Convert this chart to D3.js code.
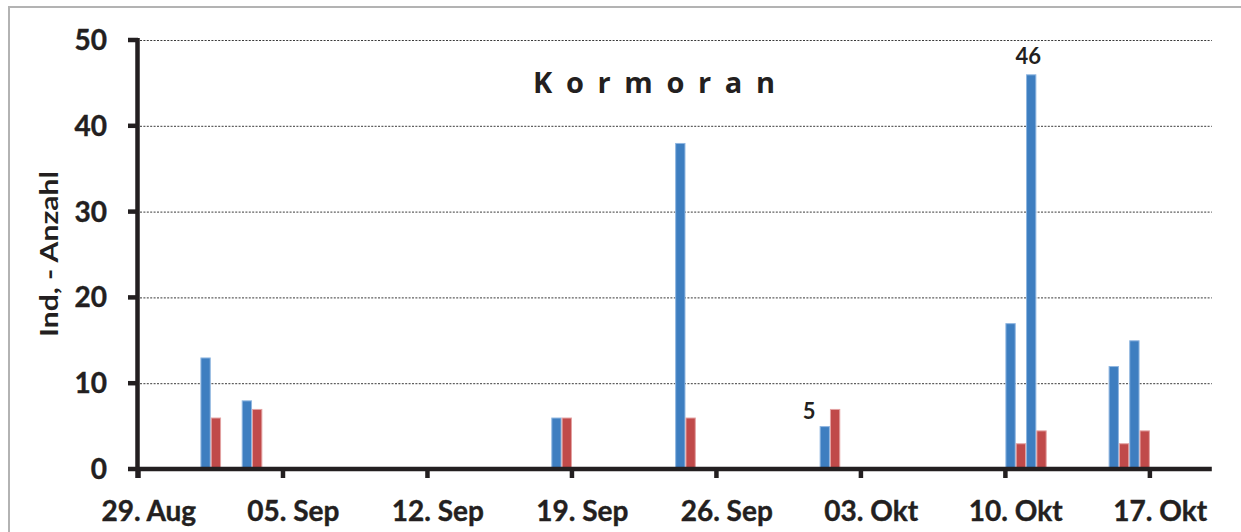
<!DOCTYPE html>
<html>
<head>
<meta charset="utf-8">
<script src="https://cdn.jsdelivr.net/npm/d3@7"></script>
<style>
  html, body { margin: 0; padding: 0; background: #fff; }
  svg { display: block; }
</style>
</head>
<body>
<svg id="chart" width="1241" height="532"></svg>
<script>
// ---- data ----
const obsDates = ["2021-09-01","2021-09-03","2021-09-18","2021-09-24","2021-10-01","2021-10-10","2021-10-11","2021-10-15","2021-10-16"];
const seriesBlue = [13, 8, 6, 38, 5, 17, 46, 12, 15];
const seriesRed  = [6, 7, 6, 6, 7, 3, 4.5, 3, 4.5];
const xTickDates = ["2021-08-29","2021-09-05","2021-09-12","2021-09-19","2021-09-26","2021-10-03","2021-10-10","2021-10-17"];
const xTickLabels = ["29. Aug","05. Sep","12. Sep","19. Sep","26. Sep","03. Okt","10. Okt","17. Okt"];
const yTickValues = [0, 10, 20, 30, 40, 50];
const xDomain = ["2021-08-29","2021-10-20"];
const labelBlueIdx = [4, 6]; // value labels shown on blue bars
const titleText = "K o r m o r a n";
const yAxisTitle = "Ind, - Anzahl";

// ---- setup ----
const parse = d3.utcParse("%Y-%m-%d");
const svg = d3.select("#chart");
const ink = "#231f20";
const fontTick = "Lato, 'Open Sans', sans-serif";

const x = d3.scaleUtc().domain(xDomain.map(parse)).range([138.5, 1211.8]);
const y = d3.scaleLinear().domain([0, 50]).range([469, 40]);

// outer border
svg.append("rect").attr("x", 9).attr("y", 7).attr("width", 1300).attr("height", 600)
  .attr("fill", "none").attr("stroke", "#b3b3b3").attr("stroke-width", 2);

// gridlines
svg.append("g").selectAll("line").data(yTickValues.filter(v => v > 0)).join("line")
  .attr("x1", 140).attr("x2", x.range()[1])
  .attr("y1", d => y(d) + 0.5).attr("y2", d => y(d) + 0.5)
  .attr("stroke", "#3a3a3a").attr("stroke-width", 1).attr("stroke-dasharray", "2,1.4");

// bars
const data = obsDates.map((d, i) => ({ date: parse(d), blue: seriesBlue[i], red: seriesRed[i] }));
const half = d => d3.utcHour.offset(d, 12);
const next = d => d3.utcDay.offset(d, 1);

svg.append("g").selectAll("rect").data(data).join("rect")
  .attr("x", d => x(d.date) + 0.5)
  .attr("width", d => x(half(d.date)) - x(d.date) - 1)
  .attr("y", d => y(d.blue) + 0.5)
  .attr("height", d => y(0) - y(d.blue) - 0.5)
  .attr("fill", "#3e7ec0").attr("stroke", "#8fb6e0").attr("stroke-width", 1);

svg.append("g").selectAll("rect").data(data).join("rect")
  .attr("x", d => x(half(d.date)) + 0.5)
  .attr("width", d => x(next(d.date)) - x(half(d.date)) - 1)
  .attr("y", d => y(d.red) + 0.5)
  .attr("height", d => y(0) - y(d.red) - 0.5)
  .attr("fill", "#c04a4a").attr("stroke", "#e3a2a2").attr("stroke-width", 1);

// x axis line + ticks
svg.append("line").attr("x1", 136).attr("x2", x.range()[1]).attr("y1", y(0)).attr("y2", y(0))
  .attr("stroke", ink).attr("stroke-width", 4.5);
const xt = xTickDates.map(parse);
svg.append("g").selectAll("line").data(xt).join("line")
  .attr("x1", d => x(d)).attr("x2", d => x(d)).attr("y1", y(0)).attr("y2", y(0) + 9)
  .attr("stroke", ink).attr("stroke-width", 4.5);
svg.append("g").selectAll("text").data(xt).join("text")
  .attr("x", d => x(half(d)))
  .attr("y", 521)
  .attr("text-anchor", "middle")
  .attr("font-family", fontTick).attr("font-weight", 700).attr("font-size", 28)
  .attr("stroke", ink).attr("stroke-width", 0.4)
  .attr("fill", ink)
  .text((d, i) => xTickLabels[i]);

// y axis line + ticks
svg.append("line").attr("x1", 137.5).attr("x2", 137.5).attr("y1", y(50) - 2).attr("y2", y(0) + 9)
  .attr("stroke", ink).attr("stroke-width", 4.5);
svg.append("g").selectAll("line").data(yTickValues).join("line")
  .attr("x1", 128).attr("x2", 138).attr("y1", d => y(d)).attr("y2", d => y(d))
  .attr("stroke", ink).attr("stroke-width", 4.5);
svg.append("g").selectAll("text").data(yTickValues).join("text")
  .attr("x", 107).attr("y", d => y(d))
  .attr("dy", "0.36em")
  .attr("text-anchor", "end")
  .attr("font-family", fontTick).attr("font-weight", 700).attr("font-size", 28)
  .attr("stroke", ink).attr("stroke-width", 0.4)
  .attr("fill", ink)
  .text(d => d);

// y axis title
svg.append("text")
  .attr("transform", "translate(58,254) rotate(-90)")
  .attr("text-anchor", "middle")
  .attr("textLength", 166).attr("lengthAdjust", "spacingAndGlyphs")
  .attr("font-family", fontTick).attr("font-weight", 700).attr("font-size", 25)
  .attr("fill", ink)
  .text(yAxisTitle);

// title
svg.append("text")
  .attr("x", 533).attr("y", 93)
  .attr("textLength", 242).attr("lengthAdjust", "spacing")
  .attr("font-family", "'Open Sans', sans-serif").attr("font-weight", 700).attr("font-size", 29)
  .attr("fill", ink)
  .text(titleText);

// value labels
const lbl = svg.append("g").attr("font-family", fontTick).attr("font-weight", 700)
  .attr("font-size", 22).attr("fill", ink);
// "46" above its bar
lbl.append("text")
  .attr("x", (x(data[6].date) + x(half(data[6].date))) / 2 - 3)
  .attr("y", y(data[6].blue) - 10)
  .attr("text-anchor", "middle")
  .text(data[labelBlueIdx[1]].blue);
// "5" to the left of its bar
lbl.append("text")
  .attr("x", x(data[4].date) - 4)
  .attr("y", y(data[4].blue) - 7)
  .attr("text-anchor", "end")
  .text(data[labelBlueIdx[0]].blue);
</script>
</body>
</html>
